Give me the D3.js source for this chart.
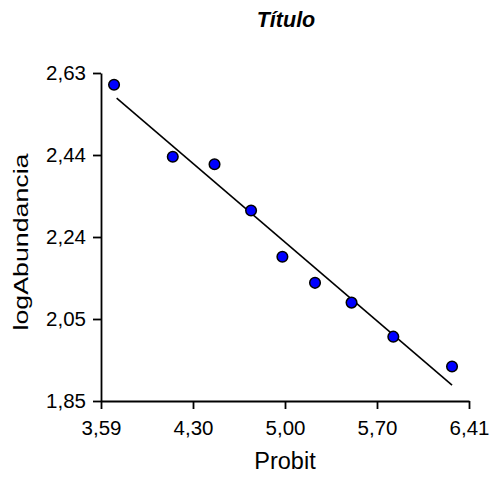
<!DOCTYPE html>
<html>
<head>
<meta charset="utf-8">
<script src="https://cdn.jsdelivr.net/npm/d3@7"></script>
<style>
  body { margin: 0; background: #fff; }
  text { font-family: "Liberation Sans", Arial, sans-serif; fill: #000; }
</style>
</head>
<body>
<div id="chart"></div>
<script>
// scatter of logAbundancia vs Probit with fitted line

const probit = [3.69, 4.14, 4.46, 4.74, 4.98, 5.23, 5.51, 5.83, 6.28];
const logAbund = [2.602, 2.431, 2.413, 2.303, 2.193, 2.131, 2.084, 2.003, 1.932];

// fitted line end points
const fitX = [3.71, 6.28];
const fitY = [2.570, 1.888];

const xTickLabels = ["3,59", "4,30", "5,00", "5,70", "6,41"];
const yTickLabels = ["1,85", "2,05", "2,24", "2,44", "2,63"];

function drawChart() {
    const W = 495, H = 479;
    const left = 101, right = 469, top = 73, bottom = 401;

    const svg = d3.select("#chart").append("svg")
        .attr("width", W)
        .attr("height", H);

    svg.append("rect").attr("width", W).attr("height", H).attr("fill", "#fff");

    const x = d3.scaleLinear().domain([3.59, 6.41]).range([left, right]);
    const y = d3.scaleLinear().domain([1.85, 2.63]).range([bottom, top]);

    const xTicks = d3.range(5).map(i => 3.59 + i * (6.41 - 3.59) / 4);
    const yTicks = d3.range(5).map(i => 1.85 + i * (2.63 - 1.85) / 4);

    // X axis
    const gx = svg.append("g")
        .attr("transform", `translate(0,${bottom})`)
        .call(d3.axisBottom(x)
            .tickValues(xTicks)
            .tickSize(8)
            .tickSizeOuter(0)
            .tickPadding(11)
            .tickFormat((d, i) => xTickLabels[i]));

    // Y axis
    const gy = svg.append("g")
        .attr("transform", `translate(${left},0)`)
        .call(d3.axisLeft(y)
            .tickValues(yTicks)
            .tickSize(8)
            .tickSizeOuter(0)
            .tickPadding(7)
            .tickFormat((d, i) => yTickLabels[i]));

    [gx, gy].forEach(g => {
        g.select(".domain").attr("stroke", "#000").attr("stroke-width", 1.8);
        g.selectAll(".tick line").attr("stroke", "#000").attr("stroke-width", 1.8);
        g.selectAll(".tick text")
            .style("font-family", '"Liberation Sans", Arial, sans-serif')
            .style("font-size", "20.5px")
            .attr("fill", "#000");
    });

    // fitted line
    svg.append("line")
        .attr("x1", x(fitX[0])).attr("y1", y(fitY[0]))
        .attr("x2", x(fitX[1])).attr("y2", y(fitY[1]))
        .attr("stroke", "#000")
        .attr("stroke-width", 1.6);

    // points
    svg.selectAll("circle.pt")
        .data(probit.map((p, i) => ({ p: p, v: logAbund[i] })))
        .enter().append("circle")
        .attr("class", "pt")
        .attr("cx", d => x(d.p))
        .attr("cy", d => y(d.v))
        .attr("r", 5.3)
        .attr("fill", "#0000ff")
        .attr("stroke", "#000")
        .attr("stroke-width", 1.5);

    // title
    svg.append("text")
        .attr("x", 286)
        .attr("y", 27)
        .attr("text-anchor", "middle")
        .style("font-size", "21.5px")
        .style("font-weight", "bold")
        .style("font-style", "italic")
        .text("Título");

    // axis titles
    svg.append("text")
        .attr("x", 285)
        .attr("y", 469)
        .attr("text-anchor", "middle")
        .style("font-size", "23.5px")
        .text("Probit");

    svg.append("text")
        .attr("transform", "translate(28,242) rotate(-90)")
        .attr("text-anchor", "middle")
        .attr("textLength", 177)
        .attr("lengthAdjust", "spacingAndGlyphs")
        .style("font-size", "20px")
        .text("logAbundancia");
}

document.addEventListener("DOMContentLoaded", drawChart);
</script>
</body>
</html>
